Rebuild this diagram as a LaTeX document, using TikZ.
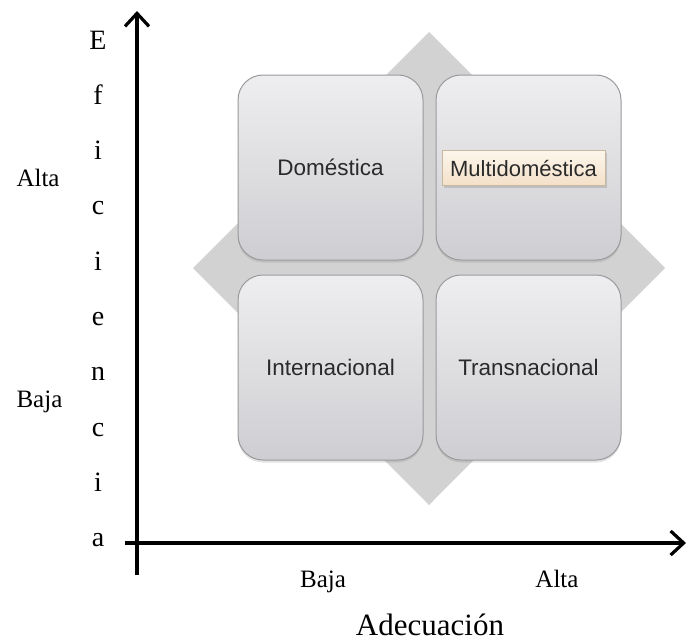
\documentclass[tikz,border=0pt]{standalone}
\usepackage{fontspec}
\setmainfont{Liberation Serif}
\setsansfont{Liberation Sans}
\usetikzlibrary{arrows.meta,shadows}
\definecolor{diamondgray}{HTML}{D2D2D2}
\definecolor{boxtop}{HTML}{EEEEF0}
\definecolor{boxbottom}{HTML}{CECED2}
\definecolor{boxedge}{HTML}{9A9A9C}
\definecolor{labeltext}{HTML}{2A2A2A}
\definecolor{tagtop}{HTML}{FDF6EC}
\definecolor{tagbottom}{HTML}{F3E0C8}
\definecolor{tagedge}{HTML}{C9B8A0}
\tikzset{
  axisline/.style={line width=3.2pt, -{Straight Barb[length=13pt,width=24pt]}},
  quadbox/.style={rounded corners=25pt, minimum width=185pt, minimum height=185pt,
    draw=boxedge, line width=1pt, top color=boxtop, bottom color=boxbottom,
    drop shadow={opacity=0.22, shadow xshift=0pt, shadow yshift=-2.5pt},
    font=\sffamily\fontsize{22.5}{26}\selectfont, text=labeltext},
  tag/.style={minimum width=163pt, minimum height=35pt, inner sep=0pt,
    draw=tagedge, line width=0.8pt, top color=tagtop, bottom color=tagbottom,
    drop shadow={opacity=0.3, shadow xshift=1.5pt, shadow yshift=-2pt},
    font=\sffamily\fontsize{22}{26}\selectfont, text=labeltext},
  axislabel/.style={font=\fontsize{25}{28}\selectfont, anchor=base},
  vletter/.style={font=\fontsize{28}{30}\selectfont, anchor=base},
  axistitle/.style={font=\fontsize{31}{34}\selectfont, anchor=base}
}
\begin{document}
\begin{tikzpicture}[x=1pt, y=-1pt]
  \useasboundingbox (0,0) rectangle (687,641);

  % background diamond behind the four quadrants
  \fill[diamondgray] (429,32) -- (665,268) -- (429,505) -- (193,268) -- cycle;

  % quadrants
  \node[quadbox] (dom) at (330.5,167.5) {Doméstica};
  \node[quadbox] (multi) at (528.5,167.5) {};
  \node[quadbox] (inter) at (330.5,367.5) {Internacional};
  \node[quadbox] (trans) at (528.5,367.5) {Transnacional};
  \node[tag] (multitag) at (523.5,168) {Multidoméstica};

  % axes
  \coordinate (ybot) at (137,575);
  \coordinate (ytop) at (137,11);
  \coordinate (xleft) at (125,543);
  \coordinate (xright) at (686,543);
  \draw[axisline] (ybot) -- (ytop);
  \draw[axisline] (xleft) -- (xright);

  % vertical axis title, one letter per line
  \foreach \ch [count=\k from 0] in {E,f,i,c,i,e,n,c,i,a} {
    \node[vletter] (v\k) at (98,49+55.3*\k) {\ch};
  }

  % level labels
  \node[axislabel, anchor=base west] (yhigh) at (13,186) {Alta};
  \node[axislabel, anchor=base west] (ylow) at (13,407) {Baja};
  \node[axislabel] (xlow) at (323,587) {Baja};
  \node[axislabel] (xhigh) at (557,587) {Alta};
  \node[axistitle] (xtitle) at (430,635) {Adecuación};
\end{tikzpicture}
\end{document}
